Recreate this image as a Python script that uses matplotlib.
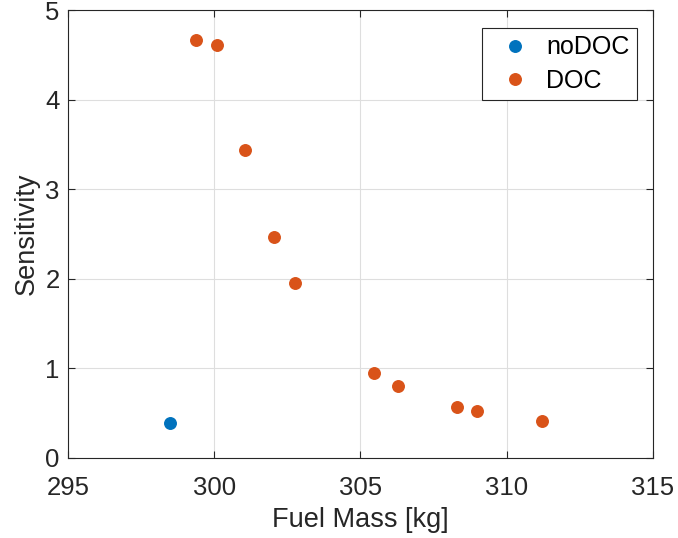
import matplotlib
matplotlib.use('Agg')
import matplotlib.pyplot as plt

plt.rcParams['font.family'] = ['Liberation Sans', 'DejaVu Sans']

# data
nodoc_mass = [298.49]
nodoc_sens = [0.39]

doc_mass = [299.37, 300.09, 301.05, 302.03, 302.76, 305.46, 306.28, 308.30, 308.98, 311.20]
doc_sens = [4.67, 4.61, 3.44, 2.47, 1.96, 0.95, 0.80, 0.57, 0.52, 0.41]

xticks = [295, 300, 305, 310, 315]
yticks = [0, 1, 2, 3, 4, 5]

fig = plt.figure(figsize=(6.78, 5.38), dpi=100)
ax = fig.add_axes([0.1003, 0.1487, 0.8627, 0.8318])

ax.plot(nodoc_mass, nodoc_sens, 'o', color='#0072BD', markersize=8.3, label='noDOC')
ax.plot(doc_mass, doc_sens, 'o', color='#D95319', markersize=8.3, label='DOC')

ax.set_xlim(295, 315)
ax.set_ylim(0, 5)
ax.set_xticks(xticks)
ax.set_yticks(yticks)
ax.grid(True, color='#dedede', linewidth=0.8)
ax.set_axisbelow(True)

ax.tick_params(direction='in', top=True, right=True, length=5, width=0.8,
               colors='#262626', labelsize=18.5)
ax.tick_params(axis='x', pad=13)
ax.tick_params(axis='y', pad=6)
for s in ax.spines.values():
    s.set_color('#262626')
    s.set_linewidth(0.8)

ax.set_xlabel('Fuel Mass [kg]', fontsize=19.5, color='#262626', labelpad=5)
ax.set_ylabel('Sensitivity', fontsize=19.5, color='#262626', labelpad=4)

leg = ax.legend(loc='upper right', bbox_to_anchor=(0.973, 0.961), fontsize=18,
                fancybox=False, edgecolor='#262626', framealpha=1,
                handletextpad=0.25, borderpad=0.3, labelspacing=0.37,
                handlelength=2.0, borderaxespad=0)
leg.get_frame().set_linewidth(0.8)

fig.savefig('out.png', dpi=100)
